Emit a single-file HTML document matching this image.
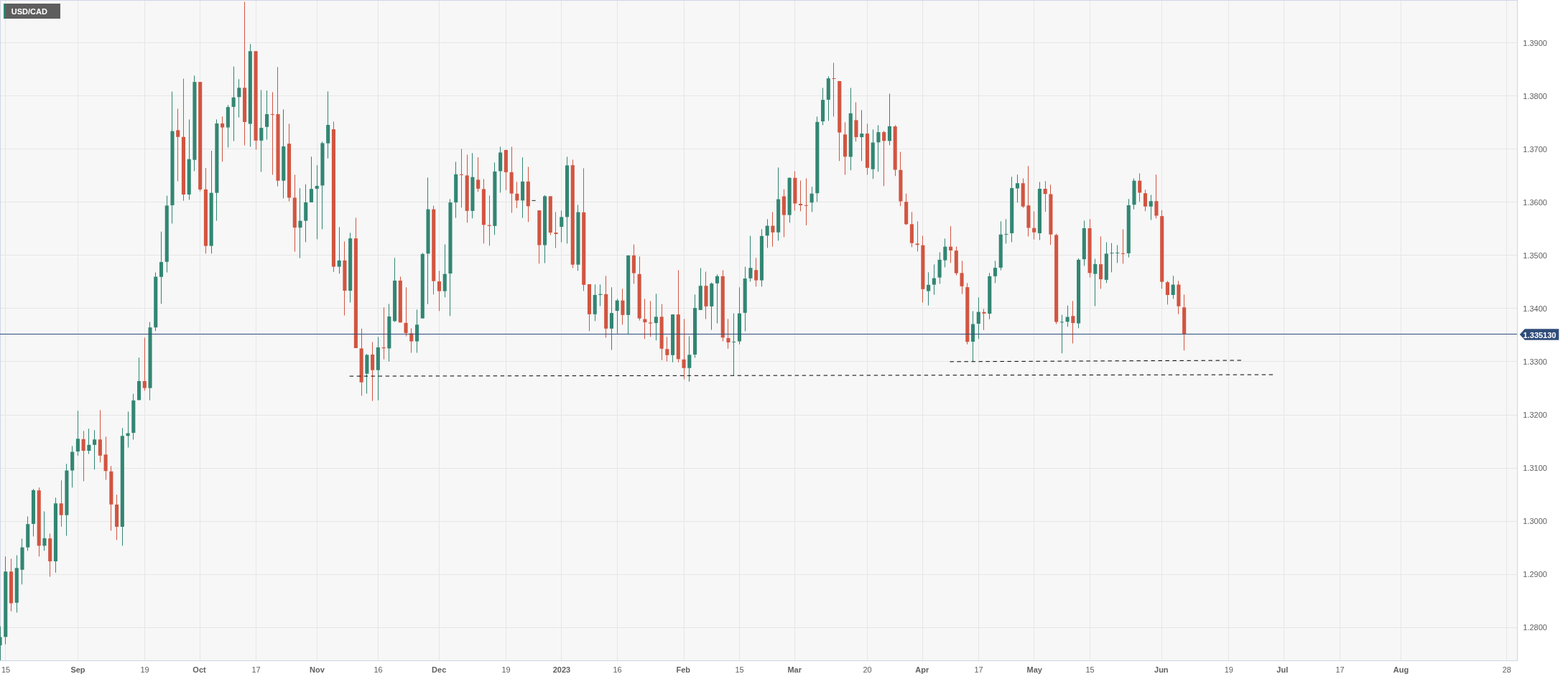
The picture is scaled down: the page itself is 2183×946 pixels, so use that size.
<!DOCTYPE html>
<html lang="en"><head><meta charset="utf-8"><title>USD/CAD</title>
<style>
html,body{margin:0;padding:0;background:#fff;}
body{width:2183px;height:946px;overflow:hidden;position:relative;font-family:"Liberation Sans",Arial,sans-serif;}
svg{position:absolute;left:0;top:0;display:block;}
text{font-family:"Liberation Sans",Arial,sans-serif;font-size:11px;fill:#606060;}
.b{font-weight:bold;}
.c{shape-rendering:crispEdges;}
</style></head><body>
<svg width="2183" height="946" viewBox="0 0 2183 946">
<rect class="c" x="0" y="0" width="2113" height="921" fill="#cfd5e6"/>
<rect class="c" x="1" y="1" width="2111" height="919" fill="#f7f7f7"/>
<g class="c" fill="#e6e6e6">
<rect x="7" y="1" width="1" height="919"/><rect x="108" y="1" width="1" height="919"/><rect x="201" y="1" width="1" height="919"/><rect x="278" y="1" width="1" height="919"/><rect x="356" y="1" width="1" height="919"/><rect x="441" y="1" width="1" height="919"/><rect x="526" y="1" width="1" height="919"/><rect x="611" y="1" width="1" height="919"/><rect x="704" y="1" width="1" height="919"/><rect x="781" y="1" width="1" height="919"/><rect x="859" y="1" width="1" height="919"/><rect x="952" y="1" width="1" height="919"/><rect x="1029" y="1" width="1" height="919"/><rect x="1106" y="1" width="1" height="919"/><rect x="1207" y="1" width="1" height="919"/><rect x="1284" y="1" width="1" height="919"/><rect x="1362" y="1" width="1" height="919"/><rect x="1439" y="1" width="1" height="919"/><rect x="1517" y="1" width="1" height="919"/><rect x="1617" y="1" width="1" height="919"/><rect x="1710" y="1" width="1" height="919"/><rect x="1787" y="1" width="1" height="919"/><rect x="1865" y="1" width="1" height="919"/><rect x="1950" y="1" width="1" height="919"/><rect x="2097" y="1" width="1" height="919"/>
<rect x="1" y="59" width="2111" height="1"/><rect x="1" y="133" width="2111" height="1"/><rect x="1" y="207" width="2111" height="1"/><rect x="1" y="281" width="2111" height="1"/><rect x="1" y="355" width="2111" height="1"/><rect x="1" y="429" width="2111" height="1"/><rect x="1" y="503" width="2111" height="1"/><rect x="1" y="578" width="2111" height="1"/><rect x="1" y="652" width="2111" height="1"/><rect x="1" y="726" width="2111" height="1"/><rect x="1" y="800" width="2111" height="1"/><rect x="1" y="874" width="2111" height="1"/>
</g>
<g>
<rect x="0" y="872.6" width="1" height="47.4" fill="#328673"/><rect x="0" y="887.6" width="2.59" height="11.5" fill="#328673"/>
<rect x="7" y="775.34" width="1" height="122.28" fill="#328673"/><rect x="5.23" y="796.31" width="5.1" height="91.08" fill="#328673"/>
<rect x="15" y="778.34" width="1" height="73.37" fill="#d15541"/><rect x="12.97" y="796.31" width="5.1" height="44.17" fill="#d15541"/>
<rect x="23" y="773.6" width="1" height="79.85" fill="#328673"/><rect x="20.71" y="791.32" width="5.1" height="48.41" fill="#328673"/>
<rect x="30" y="750.39" width="1" height="63.88" fill="#328673"/><rect x="28.45" y="762.62" width="5.1" height="31.19" fill="#328673"/>
<rect x="38" y="719.45" width="1" height="47.91" fill="#328673"/><rect x="36.19" y="730.18" width="5.1" height="32.44" fill="#328673"/>
<rect x="46" y="681.21" width="1" height="66.18" fill="#328673"/><rect x="43.93" y="682.96" width="5.1" height="46.97" fill="#328673"/>
<rect x="54" y="679.22" width="1" height="96.13" fill="#d15541"/><rect x="51.67" y="683.21" width="5.1" height="77.16" fill="#d15541"/>
<rect x="61" y="712.46" width="1" height="54.9" fill="#328673"/><rect x="59.41" y="749.89" width="5.1" height="10.48" fill="#328673"/>
<rect x="69" y="743.4" width="1" height="60.14" fill="#d15541"/><rect x="67.15" y="750.14" width="5.1" height="31.94" fill="#d15541"/>
<rect x="77" y="693.34" width="1" height="104.46" fill="#328673"/><rect x="74.89" y="701.33" width="5.1" height="80.75" fill="#328673"/>
<rect x="85" y="669.23" width="1" height="64.44" fill="#d15541"/><rect x="82.63" y="701.33" width="5.1" height="16.37" fill="#d15541"/>
<rect x="92" y="646.26" width="1" height="100.14" fill="#328673"/><rect x="90.37" y="655.5" width="5.1" height="62.2" fill="#328673"/>
<rect x="100" y="621.29" width="1" height="57.92" fill="#328673"/><rect x="98.11" y="629.53" width="5.1" height="25.96" fill="#328673"/>
<rect x="108" y="572.36" width="1" height="62.41" fill="#328673"/><rect x="105.85" y="611.31" width="5.1" height="17.73" fill="#328673"/>
<rect x="116" y="600.32" width="1" height="70.15" fill="#d15541"/><rect x="113.59" y="611.81" width="5.1" height="16.23" fill="#d15541"/>
<rect x="123" y="597.33" width="1" height="35.2" fill="#328673"/><rect x="121.33" y="619.8" width="5.1" height="8.24" fill="#328673"/>
<rect x="131" y="599.32" width="1" height="54.92" fill="#328673"/><rect x="129.07" y="612.31" width="5.1" height="7.49" fill="#328673"/>
<rect x="139" y="571.36" width="1" height="72.9" fill="#d15541"/><rect x="136.81" y="612.31" width="5.1" height="22.47" fill="#d15541"/>
<rect x="147" y="608.31" width="1" height="60.17" fill="#d15541"/><rect x="144.55" y="633.28" width="5.1" height="22.97" fill="#d15541"/>
<rect x="154" y="649.26" width="1" height="90.15" fill="#d15541"/><rect x="152.29" y="656.75" width="5.1" height="46.08" fill="#d15541"/>
<rect x="162" y="689.2" width="1" height="63.18" fill="#d15541"/><rect x="160.03" y="702.95" width="5.1" height="30.97" fill="#d15541"/>
<rect x="170" y="596.33" width="1" height="164.04" fill="#328673"/><rect x="167.77" y="607.31" width="5.1" height="126.61" fill="#328673"/>
<rect x="178" y="573.36" width="1" height="50.18" fill="#328673"/><rect x="175.51" y="603.57" width="5.1" height="3.74" fill="#328673"/>
<rect x="185" y="548.64" width="1" height="63.91" fill="#328673"/><rect x="183.25" y="557.88" width="5.1" height="45.19" fill="#328673"/>
<rect x="193" y="498.21" width="1" height="59.17" fill="#328673"/><rect x="190.99" y="530.92" width="5.1" height="26.46" fill="#328673"/>
<rect x="201" y="470.5" width="1" height="73.9" fill="#d15541"/><rect x="198.73" y="530.92" width="5.1" height="9.74" fill="#d15541"/>
<rect x="208" y="448.71" width="1" height="108.92" fill="#328673"/><rect x="206.47" y="456.2" width="5.1" height="84.46" fill="#328673"/>
<rect x="216" y="379.55" width="1" height="81.64" fill="#328673"/><rect x="214.21" y="385.54" width="5.1" height="70.65" fill="#328673"/>
<rect x="224" y="322.63" width="1" height="100.61" fill="#328673"/><rect x="221.95" y="365.07" width="5.1" height="20.72" fill="#328673"/>
<rect x="232" y="272.7" width="1" height="106.85" fill="#328673"/><rect x="229.69" y="286.43" width="5.1" height="78.39" fill="#328673"/>
<rect x="239" y="127.61" width="1" height="183.79" fill="#328673"/><rect x="237.43" y="182.66" width="5.1" height="103.27" fill="#328673"/>
<rect x="247" y="151.45" width="1" height="101.02" fill="#d15541"/><rect x="245.17" y="181.39" width="5.1" height="9.39" fill="#d15541"/>
<rect x="255" y="109.59" width="1" height="170.1" fill="#d15541"/><rect x="252.91" y="190.78" width="5.1" height="80.18" fill="#d15541"/>
<rect x="263" y="166.42" width="1" height="112.02" fill="#328673"/><rect x="260.65" y="221.73" width="5.1" height="49.23" fill="#328673"/>
<rect x="270" y="105.28" width="1" height="133.2" fill="#328673"/><rect x="268.39" y="114.16" width="5.1" height="108.58" fill="#328673"/>
<rect x="278" y="114.16" width="1" height="152.3" fill="#d15541"/><rect x="276.13" y="114.16" width="5.1" height="149.8" fill="#d15541"/>
<rect x="286" y="234.16" width="1" height="119.18" fill="#d15541"/><rect x="283.87" y="263.96" width="5.1" height="78.64" fill="#d15541"/>
<rect x="294" y="210.06" width="1" height="143.28" fill="#328673"/><rect x="291.61" y="268.71" width="5.1" height="73.9" fill="#328673"/>
<rect x="301" y="166.42" width="1" height="141.23" fill="#328673"/><rect x="299.35" y="172" width="5.1" height="96.7" fill="#328673"/>
<rect x="309" y="162.36" width="1" height="62.92" fill="#d15541"/><rect x="307.09" y="172" width="5.1" height="5.58" fill="#d15541"/>
<rect x="317" y="146.38" width="1" height="59.11" fill="#328673"/><rect x="314.83" y="149.17" width="5.1" height="28.41" fill="#328673"/>
<rect x="325" y="92.6" width="1" height="104.01" fill="#328673"/><rect x="322.57" y="135.72" width="5.1" height="13.19" fill="#328673"/>
<rect x="332" y="110.36" width="1" height="53.28" fill="#328673"/><rect x="330.31" y="122.28" width="5.1" height="12.94" fill="#328673"/>
<rect x="340" y="2.54" width="1" height="199.91" fill="#d15541"/><rect x="338.05" y="122.28" width="5.1" height="47.69" fill="#d15541"/>
<rect x="348" y="61.39" width="1" height="143.08" fill="#328673"/><rect x="345.79" y="71.29" width="5.1" height="101.22" fill="#328673"/>
<rect x="356" y="71.29" width="1" height="137.25" fill="#d15541"/><rect x="353.53" y="71.29" width="5.1" height="124.56" fill="#d15541"/>
<rect x="363" y="125.32" width="1" height="114.17" fill="#328673"/><rect x="361.27" y="178.09" width="5.1" height="17.76" fill="#328673"/>
<rect x="371" y="126.08" width="1" height="68.5" fill="#328673"/><rect x="369.01" y="159.06" width="5.1" height="17.76" fill="#328673"/>
<rect x="379" y="128.37" width="1" height="115.12" fill="#d15541"/><rect x="376.75" y="159.06" width="5.1" height="1.01" fill="#d15541"/>
<rect x="386" y="93.36" width="1" height="166.36" fill="#d15541"/><rect x="384.49" y="159.06" width="5.1" height="92.66" fill="#d15541"/>
<rect x="394" y="152.47" width="1" height="123.98" fill="#328673"/><rect x="392.23" y="203.97" width="5.1" height="47.76" fill="#328673"/>
<rect x="402" y="172.51" width="1" height="107.93" fill="#d15541"/><rect x="399.97" y="200.16" width="5.1" height="75.28" fill="#d15541"/>
<rect x="410" y="243.49" width="1" height="107.1" fill="#d15541"/><rect x="407.71" y="275.45" width="5.1" height="41.69" fill="#d15541"/>
<rect x="417" y="262.21" width="1" height="97.37" fill="#328673"/><rect x="415.45" y="307.65" width="5.1" height="9.49" fill="#328673"/>
<rect x="425" y="256.72" width="1" height="80.64" fill="#328673"/><rect x="423.19" y="281.94" width="5.1" height="25.71" fill="#328673"/>
<rect x="433" y="218.17" width="1" height="63.76" fill="#328673"/><rect x="430.93" y="263.21" width="5.1" height="18.72" fill="#328673"/>
<rect x="441" y="230.1" width="1" height="103.27" fill="#328673"/><rect x="438.67" y="258.97" width="5.1" height="3.99" fill="#328673"/>
<rect x="448" y="197.37" width="1" height="122.01" fill="#328673"/><rect x="446.41" y="199.4" width="5.1" height="59.07" fill="#328673"/>
<rect x="456" y="127.35" width="1" height="93.36" fill="#328673"/><rect x="454.15" y="174.03" width="5.1" height="25.62" fill="#328673"/>
<rect x="464" y="169.47" width="1" height="209.34" fill="#d15541"/><rect x="461.89" y="180.12" width="5.1" height="191.44" fill="#d15541"/>
<rect x="472" y="316.39" width="1" height="64.91" fill="#328673"/><rect x="469.63" y="362.83" width="5.1" height="8.74" fill="#328673"/>
<rect x="479" y="336.36" width="1" height="103.11" fill="#d15541"/><rect x="477.37" y="362.83" width="5.1" height="42.19" fill="#d15541"/>
<rect x="487" y="324.38" width="1" height="97.12" fill="#328673"/><rect x="485.11" y="332.12" width="5.1" height="72.9" fill="#328673"/>
<rect x="495" y="303.41" width="1" height="181.57" fill="#d15541"/><rect x="492.85" y="332.12" width="5.1" height="152.86" fill="#d15541"/>
<rect x="503" y="457.7" width="1" height="93.7" fill="#d15541"/><rect x="500.59" y="485.48" width="5.1" height="47.19" fill="#d15541"/>
<rect x="510" y="493.22" width="1" height="55.17" fill="#328673"/><rect x="508.33" y="494.47" width="5.1" height="26.21" fill="#328673"/>
<rect x="518" y="476.49" width="1" height="82.14" fill="#d15541"/><rect x="516.07" y="493.97" width="5.1" height="21.72" fill="#d15541"/>
<rect x="526" y="469.43" width="1" height="88.2" fill="#328673"/><rect x="523.81" y="483.98" width="5.1" height="31.71" fill="#328673"/>
<rect x="534" y="428.24" width="1" height="72.47" fill="#d15541"/><rect x="531.55" y="483.98" width="5.1" height="1.25" fill="#d15541"/>
<rect x="541" y="423.43" width="1" height="80.18" fill="#328673"/><rect x="539.29" y="440.91" width="5.1" height="44.48" fill="#328673"/>
<rect x="549" y="359.36" width="1" height="89.23" fill="#328673"/><rect x="547.03" y="390.94" width="5.1" height="56.4" fill="#328673"/>
<rect x="557" y="385.32" width="1" height="64.02" fill="#d15541"/><rect x="554.77" y="390.94" width="5.1" height="58.4" fill="#d15541"/>
<rect x="565" y="400.3" width="1" height="68.26" fill="#d15541"/><rect x="562.51" y="449.84" width="5.1" height="14.23" fill="#d15541"/>
<rect x="572" y="457.32" width="1" height="34.2" fill="#d15541"/><rect x="570.25" y="464.32" width="5.1" height="11.23" fill="#d15541"/>
<rect x="580" y="431.36" width="1" height="60.17" fill="#328673"/><rect x="577.99" y="452.33" width="5.1" height="23.22" fill="#328673"/>
<rect x="588" y="352.37" width="1" height="91.23" fill="#328673"/><rect x="585.73" y="353.86" width="5.1" height="89.73" fill="#328673"/>
<rect x="595" y="247.41" width="1" height="176.21" fill="#328673"/><rect x="593.47" y="291.6" width="5.1" height="61.77" fill="#328673"/>
<rect x="603" y="286.6" width="1" height="123.68" fill="#d15541"/><rect x="601.21" y="291.6" width="5.1" height="100.09" fill="#d15541"/>
<rect x="611" y="377.33" width="1" height="56.03" fill="#d15541"/><rect x="608.95" y="392.06" width="5.1" height="13.61" fill="#d15541"/>
<rect x="619" y="340.51" width="1" height="73.77" fill="#328673"/><rect x="616.69" y="381.7" width="5.1" height="23.97" fill="#328673"/>
<rect x="626" y="277.37" width="1" height="162.98" fill="#328673"/><rect x="624.43" y="282.11" width="5.1" height="98.97" fill="#328673"/>
<rect x="634" y="225.44" width="1" height="78.14" fill="#328673"/><rect x="632.17" y="242.91" width="5.1" height="39.2" fill="#328673"/>
<rect x="642" y="207.46" width="1" height="81.89" fill="#d15541"/><rect x="639.91" y="242.91" width="5.1" height="1" fill="#d15541"/>
<rect x="650" y="215.45" width="1" height="94.87" fill="#d15541"/><rect x="647.65" y="244.41" width="5.1" height="49.43" fill="#d15541"/>
<rect x="657" y="213.2" width="1" height="91.12" fill="#328673"/><rect x="655.39" y="246.66" width="5.1" height="47.19" fill="#328673"/>
<rect x="665" y="219.2" width="1" height="48.18" fill="#d15541"/><rect x="663.13" y="250.4" width="5.1" height="12.48" fill="#d15541"/>
<rect x="673" y="249.4" width="1" height="89.98" fill="#d15541"/><rect x="670.87" y="263.39" width="5.1" height="49.93" fill="#d15541"/>
<rect x="681" y="272.37" width="1" height="70.01" fill="#d15541"/><rect x="678.61" y="313.57" width="5.1" height="1.25" fill="#d15541"/>
<rect x="688" y="226.44" width="1" height="100.86" fill="#328673"/><rect x="686.35" y="238.92" width="5.1" height="75.9" fill="#328673"/>
<rect x="696" y="204.47" width="1" height="63.91" fill="#328673"/><rect x="694.09" y="212.46" width="5.1" height="25.96" fill="#328673"/>
<rect x="704" y="208.71" width="1" height="56.17" fill="#d15541"/><rect x="701.83" y="208.96" width="5.1" height="30.96" fill="#d15541"/>
<rect x="712" y="204.47" width="1" height="92.12" fill="#d15541"/><rect x="709.57" y="239.92" width="5.1" height="29.71" fill="#d15541"/>
<rect x="719" y="253.4" width="1" height="36.45" fill="#d15541"/><rect x="717.31" y="269.88" width="5.1" height="9.49" fill="#d15541"/>
<rect x="727" y="219.2" width="1" height="84.38" fill="#328673"/><rect x="725.05" y="252.9" width="5.1" height="26.46" fill="#328673"/>
<rect x="735" y="232.43" width="1" height="76.89" fill="#d15541"/><rect x="732.79" y="252.9" width="5.1" height="34.45" fill="#d15541"/>
<rect x="740.53" y="278.86" width="5.1" height="1" fill="#222"/>
<rect x="750" y="293.09" width="1" height="74.25" fill="#d15541"/><rect x="748.27" y="293.09" width="5.1" height="48.41" fill="#d15541"/>
<rect x="758" y="271.87" width="1" height="94.72" fill="#328673"/><rect x="756.01" y="273.37" width="5.1" height="68.13" fill="#328673"/>
<rect x="766" y="273.37" width="1" height="53.93" fill="#d15541"/><rect x="763.75" y="273.37" width="5.1" height="50.68" fill="#d15541"/>
<rect x="773" y="295.34" width="1" height="50.16" fill="#d15541"/><rect x="771.49" y="324.05" width="5.1" height="2" fill="#d15541"/>
<rect x="781" y="293.34" width="1" height="44.17" fill="#328673"/><rect x="779.23" y="302.33" width="5.1" height="13.73" fill="#328673"/>
<rect x="789" y="218.45" width="1" height="120.94" fill="#328673"/><rect x="786.97" y="230.43" width="5.1" height="71.9" fill="#328673"/>
<rect x="797" y="222.44" width="1" height="151.15" fill="#d15541"/><rect x="794.71" y="230.18" width="5.1" height="138.54" fill="#d15541"/>
<rect x="804" y="285.36" width="1" height="91.98" fill="#328673"/><rect x="802.45" y="295.59" width="5.1" height="73.13" fill="#328673"/>
<rect x="812" y="234.43" width="1" height="170.99" fill="#d15541"/><rect x="810.19" y="295.84" width="5.1" height="100.96" fill="#d15541"/>
<rect x="820" y="395.93" width="1" height="65.39" fill="#d15541"/><rect x="817.93" y="395.93" width="5.1" height="41.92" fill="#d15541"/>
<rect x="828" y="396.31" width="1" height="51.03" fill="#328673"/><rect x="825.67" y="410.91" width="5.1" height="26.94" fill="#328673"/>
<rect x="835" y="396.31" width="1" height="30.31" fill="#328673"/><rect x="833.41" y="409.66" width="5.1" height="1.23" fill="#328673"/>
<rect x="843" y="384.32" width="1" height="86.23" fill="#d15541"/><rect x="841.15" y="409.91" width="5.1" height="47.91" fill="#d15541"/>
<rect x="851" y="400.3" width="1" height="87.23" fill="#328673"/><rect x="848.89" y="436.1" width="5.1" height="21.72" fill="#328673"/>
<rect x="859" y="416.38" width="1" height="48.43" fill="#328673"/><rect x="856.63" y="418.63" width="5.1" height="14.48" fill="#328673"/>
<rect x="866" y="402.3" width="1" height="50.03" fill="#d15541"/><rect x="864.37" y="418.63" width="5.1" height="20.22" fill="#d15541"/>
<rect x="874" y="355.86" width="1" height="110.2" fill="#328673"/><rect x="872.11" y="355.86" width="5.1" height="82.99" fill="#328673"/>
<rect x="882" y="340.51" width="1" height="54.8" fill="#d15541"/><rect x="879.85" y="355.86" width="5.1" height="24.72" fill="#d15541"/>
<rect x="890" y="357.36" width="1" height="89.23" fill="#d15541"/><rect x="887.59" y="381.83" width="5.1" height="61.77" fill="#d15541"/>
<rect x="897" y="416.38" width="1" height="55.92" fill="#d15541"/><rect x="895.33" y="444.59" width="5.1" height="4.49" fill="#d15541"/>
<rect x="905" y="419.38" width="1" height="49.93" fill="#d15541"/><rect x="903.07" y="449.34" width="5.1" height="1.25" fill="#d15541"/>
<rect x="913" y="409.29" width="1" height="65.01" fill="#328673"/><rect x="910.81" y="441.35" width="5.1" height="8.74" fill="#328673"/>
<rect x="921" y="423.62" width="1" height="78.14" fill="#d15541"/><rect x="918.55" y="441.35" width="5.1" height="44.44" fill="#d15541"/>
<rect x="928" y="469.31" width="1" height="34.2" fill="#d15541"/><rect x="926.29" y="486.29" width="5.1" height="8.49" fill="#d15541"/>
<rect x="936" y="437.85" width="1" height="66.91" fill="#328673"/><rect x="934.03" y="438.1" width="5.1" height="56.67" fill="#328673"/>
<rect x="944" y="376.46" width="1" height="128.3" fill="#d15541"/><rect x="941.77" y="438.1" width="5.1" height="62.16" fill="#d15541"/>
<rect x="952" y="444.34" width="1" height="84.13" fill="#d15541"/><rect x="949.51" y="500.77" width="5.1" height="11.98" fill="#d15541"/>
<rect x="959" y="468.56" width="1" height="63.16" fill="#328673"/><rect x="957.25" y="494.27" width="5.1" height="18.47" fill="#328673"/>
<rect x="967" y="410.29" width="1" height="88.23" fill="#328673"/><rect x="964.99" y="429.11" width="5.1" height="64.91" fill="#328673"/>
<rect x="975" y="373.46" width="1" height="58.4" fill="#328673"/><rect x="972.73" y="398.18" width="5.1" height="33.68" fill="#328673"/>
<rect x="982" y="378.46" width="1" height="66.14" fill="#d15541"/><rect x="980.47" y="398.18" width="5.1" height="28.69" fill="#d15541"/>
<rect x="990" y="393.56" width="1" height="66.01" fill="#328673"/><rect x="988.21" y="395.06" width="5.1" height="31.81" fill="#328673"/>
<rect x="998" y="382.32" width="1" height="68.26" fill="#328673"/><rect x="995.95" y="384.82" width="5.1" height="9.99" fill="#328673"/>
<rect x="1006" y="376.46" width="1" height="99.09" fill="#d15541"/><rect x="1003.69" y="384.82" width="5.1" height="85.49" fill="#d15541"/>
<rect x="1013" y="444.34" width="1" height="41.44" fill="#d15541"/><rect x="1011.43" y="471.06" width="5.1" height="5.99" fill="#d15541"/>
<rect x="1021" y="436.6" width="1" height="86.88" fill="#328673"/><rect x="1019.17" y="476.05" width="5.1" height="1" fill="#328673"/>
<rect x="1029" y="400.3" width="1" height="79.49" fill="#328673"/><rect x="1026.91" y="436.6" width="5.1" height="38.95" fill="#328673"/>
<rect x="1037" y="371.59" width="1" height="89.98" fill="#328673"/><rect x="1034.65" y="388.07" width="5.1" height="47.79" fill="#328673"/>
<rect x="1044" y="328.55" width="1" height="63.77" fill="#328673"/><rect x="1042.39" y="373.21" width="5.1" height="14.6" fill="#328673"/>
<rect x="1052" y="359.36" width="1" height="39.95" fill="#d15541"/><rect x="1050.13" y="376.21" width="5.1" height="14.36" fill="#d15541"/>
<rect x="1060" y="319.31" width="1" height="79.99" fill="#328673"/><rect x="1057.87" y="328.8" width="5.1" height="61.77" fill="#328673"/>
<rect x="1068" y="305.33" width="1" height="40.05" fill="#328673"/><rect x="1065.61" y="314.56" width="5.1" height="13.73" fill="#328673"/>
<rect x="1075" y="295.34" width="1" height="48.29" fill="#d15541"/><rect x="1073.35" y="314.56" width="5.1" height="9.24" fill="#d15541"/>
<rect x="1083" y="233.36" width="1" height="102" fill="#328673"/><rect x="1081.09" y="277.55" width="5.1" height="46.21" fill="#328673"/>
<rect x="1091" y="263.5" width="1" height="66.95" fill="#d15541"/><rect x="1088.83" y="273.48" width="5.1" height="26.11" fill="#d15541"/>
<rect x="1099" y="247.27" width="1" height="63.06" fill="#328673"/><rect x="1096.57" y="247.77" width="5.1" height="51.82" fill="#328673"/>
<rect x="1106" y="238.53" width="1" height="54.94" fill="#d15541"/><rect x="1104.31" y="247.77" width="5.1" height="35.7" fill="#d15541"/>
<rect x="1114" y="251.51" width="1" height="42.84" fill="#d15541"/><rect x="1112.05" y="283.97" width="5.1" height="2" fill="#d15541"/>
<rect x="1122" y="248.52" width="1" height="65.43" fill="#d15541"/><rect x="1119.79" y="285.84" width="5.1" height="1" fill="#d15541"/>
<rect x="1130" y="260.25" width="1" height="35.1" fill="#328673"/><rect x="1127.53" y="269.74" width="5.1" height="12.48" fill="#328673"/>
<rect x="1137" y="162.39" width="1" height="118.84" fill="#328673"/><rect x="1135.27" y="169.88" width="5.1" height="99.36" fill="#328673"/>
<rect x="1145" y="122.44" width="1" height="51.93" fill="#328673"/><rect x="1143.01" y="139.17" width="5.1" height="29.96" fill="#328673"/>
<rect x="1153" y="106.21" width="1" height="62.16" fill="#328673"/><rect x="1150.75" y="109.21" width="5.1" height="29.71" fill="#328673"/>
<rect x="1160" y="87.49" width="1" height="74.9" fill="#d15541"/><rect x="1158.49" y="108.96" width="5.1" height="1" fill="#d15541"/>
<rect x="1168" y="112.95" width="1" height="111.35" fill="#d15541"/><rect x="1166.23" y="112.95" width="5.1" height="71.65" fill="#d15541"/>
<rect x="1176" y="170.38" width="1" height="73.15" fill="#d15541"/><rect x="1173.97" y="187.35" width="5.1" height="30.96" fill="#d15541"/>
<rect x="1184" y="122.44" width="1" height="114.84" fill="#328673"/><rect x="1181.71" y="157.89" width="5.1" height="60.67" fill="#328673"/>
<rect x="1191" y="142.41" width="1" height="54.92" fill="#d15541"/><rect x="1189.45" y="167.38" width="5.1" height="23.72" fill="#d15541"/>
<rect x="1199" y="153.4" width="1" height="70.9" fill="#328673"/><rect x="1197.19" y="186.1" width="5.1" height="4.99" fill="#328673"/>
<rect x="1207" y="172.37" width="1" height="71.15" fill="#d15541"/><rect x="1204.93" y="186.1" width="5.1" height="47.68" fill="#d15541"/>
<rect x="1215" y="180.36" width="1" height="68.91" fill="#328673"/><rect x="1212.67" y="198.59" width="5.1" height="37.2" fill="#328673"/>
<rect x="1222" y="174.37" width="1" height="64.91" fill="#328673"/><rect x="1220.41" y="184.11" width="5.1" height="14.23" fill="#328673"/>
<rect x="1230" y="182.36" width="1" height="76.89" fill="#d15541"/><rect x="1228.15" y="184.11" width="5.1" height="12.23" fill="#d15541"/>
<rect x="1238" y="130.43" width="1" height="71.9" fill="#328673"/><rect x="1235.89" y="175.87" width="5.1" height="20.47" fill="#328673"/>
<rect x="1246" y="174.37" width="1" height="70.9" fill="#d15541"/><rect x="1243.63" y="176.12" width="5.1" height="60.42" fill="#d15541"/>
<rect x="1253" y="211.57" width="1" height="75.65" fill="#d15541"/><rect x="1251.37" y="236.78" width="5.1" height="43.69" fill="#d15541"/>
<rect x="1261" y="269.74" width="1" height="43.71" fill="#d15541"/><rect x="1259.11" y="281.22" width="5.1" height="31.1" fill="#d15541"/>
<rect x="1269" y="295.35" width="1" height="49.08" fill="#d15541"/><rect x="1266.85" y="312.32" width="5.1" height="26.36" fill="#d15541"/>
<rect x="1277" y="308.33" width="1" height="42.09" fill="#d15541"/><rect x="1274.59" y="339.43" width="5.1" height="1.75" fill="#d15541"/>
<rect x="1284" y="328.45" width="1" height="93.12" fill="#d15541"/><rect x="1282.33" y="341.68" width="5.1" height="61.17" fill="#d15541"/>
<rect x="1292" y="379.38" width="1" height="46.19" fill="#328673"/><rect x="1290.07" y="396.85" width="5.1" height="8.74" fill="#328673"/>
<rect x="1300" y="368.39" width="1" height="42.19" fill="#328673"/><rect x="1297.81" y="387.62" width="5.1" height="8.99" fill="#328673"/>
<rect x="1308" y="351.42" width="1" height="43.94" fill="#328673"/><rect x="1305.55" y="361.9" width="5.1" height="24.72" fill="#328673"/>
<rect x="1315" y="332.44" width="1" height="39.95" fill="#328673"/><rect x="1313.29" y="343.68" width="5.1" height="18.97" fill="#328673"/>
<rect x="1323" y="315.07" width="1" height="51.32" fill="#d15541"/><rect x="1321.03" y="343.68" width="5.1" height="5.24" fill="#d15541"/>
<rect x="1331" y="343.43" width="1" height="40.19" fill="#d15541"/><rect x="1328.77" y="349.17" width="5.1" height="31.46" fill="#d15541"/>
<rect x="1339" y="363.4" width="1" height="46.19" fill="#d15541"/><rect x="1336.51" y="380.38" width="5.1" height="18.47" fill="#d15541"/>
<rect x="1346" y="394.36" width="1" height="85.38" fill="#d15541"/><rect x="1344.25" y="400.1" width="5.1" height="76.15" fill="#d15541"/>
<rect x="1354" y="433.55" width="1" height="70.4" fill="#328673"/><rect x="1351.99" y="451.53" width="5.1" height="24.47" fill="#328673"/>
<rect x="1362" y="414.33" width="1" height="57.92" fill="#328673"/><rect x="1359.73" y="434.55" width="5.1" height="16.48" fill="#328673"/>
<rect x="1369" y="430.31" width="1" height="29.46" fill="#d15541"/><rect x="1367.47" y="434.8" width="5.1" height="2" fill="#d15541"/>
<rect x="1377" y="380.38" width="1" height="64.41" fill="#328673"/><rect x="1375.21" y="384.87" width="5.1" height="52.18" fill="#328673"/>
<rect x="1385" y="363.4" width="1" height="30.96" fill="#328673"/><rect x="1382.95" y="373.14" width="5.1" height="11.73" fill="#328673"/>
<rect x="1393" y="308.33" width="1" height="68.3" fill="#328673"/><rect x="1390.69" y="326.7" width="5.1" height="46.19" fill="#328673"/>
<rect x="1400" y="305.33" width="1" height="34.1" fill="#328673"/><rect x="1398.43" y="325.95" width="5.1" height="1" fill="#328673"/>
<rect x="1408" y="246.27" width="1" height="91.16" fill="#328673"/><rect x="1406.17" y="262" width="5.1" height="62.95" fill="#328673"/>
<rect x="1416" y="243.28" width="1" height="38.95" fill="#328673"/><rect x="1413.91" y="255.26" width="5.1" height="7.24" fill="#328673"/>
<rect x="1424" y="248.52" width="1" height="41.19" fill="#d15541"/><rect x="1421.65" y="255.26" width="5.1" height="32.46" fill="#d15541"/>
<rect x="1431" y="231.29" width="1" height="98.15" fill="#d15541"/><rect x="1429.39" y="286.22" width="5.1" height="31.25" fill="#d15541"/>
<rect x="1439" y="294.35" width="1" height="39.34" fill="#d15541"/><rect x="1437.13" y="317.71" width="5.1" height="5.99" fill="#d15541"/>
<rect x="1447" y="253.51" width="1" height="80.93" fill="#328673"/><rect x="1444.87" y="263" width="5.1" height="61.95" fill="#328673"/>
<rect x="1455" y="252.26" width="1" height="42.84" fill="#d15541"/><rect x="1452.61" y="263" width="5.1" height="7.24" fill="#d15541"/>
<rect x="1462" y="257.26" width="1" height="83.92" fill="#d15541"/><rect x="1460.35" y="270.49" width="5.1" height="56.21" fill="#d15541"/>
<rect x="1470" y="325.45" width="1" height="126.08" fill="#d15541"/><rect x="1468.09" y="327.45" width="5.1" height="121.08" fill="#d15541"/>
<rect x="1478" y="438.55" width="1" height="53.68" fill="#328673"/><rect x="1475.83" y="448.28" width="5.1" height="1" fill="#328673"/>
<rect x="1486" y="425.56" width="1" height="29.71" fill="#328673"/><rect x="1483.57" y="441.54" width="5.1" height="6.74" fill="#328673"/>
<rect x="1493" y="419.32" width="1" height="59.17" fill="#d15541"/><rect x="1491.31" y="440.29" width="5.1" height="9.74" fill="#d15541"/>
<rect x="1501" y="359.9" width="1" height="97.37" fill="#328673"/><rect x="1499.05" y="361.9" width="5.1" height="88.63" fill="#328673"/>
<rect x="1509" y="307.33" width="1" height="63.06" fill="#328673"/><rect x="1506.79" y="317.96" width="5.1" height="43.19" fill="#328673"/>
<rect x="1517" y="305.33" width="1" height="81.28" fill="#d15541"/><rect x="1514.53" y="317.96" width="5.1" height="62.41" fill="#d15541"/>
<rect x="1524" y="360.65" width="1" height="65.91" fill="#328673"/><rect x="1522.27" y="367.89" width="5.1" height="13.73" fill="#328673"/>
<rect x="1532" y="329.45" width="1" height="72.9" fill="#d15541"/><rect x="1530.01" y="368.14" width="5.1" height="20.97" fill="#d15541"/>
<rect x="1540" y="337.43" width="1" height="56.92" fill="#328673"/><rect x="1537.75" y="353.41" width="5.1" height="36.45" fill="#328673"/>
<rect x="1547" y="338.68" width="1" height="40.69" fill="#328673"/><rect x="1545.49" y="352.16" width="5.1" height="1" fill="#328673"/>
<rect x="1555" y="341.43" width="1" height="24.97" fill="#328673"/><rect x="1553.23" y="351.91" width="5.1" height="1" fill="#328673"/>
<rect x="1563" y="319.46" width="1" height="47.93" fill="#d15541"/><rect x="1560.97" y="352.91" width="5.1" height="1" fill="#d15541"/>
<rect x="1571" y="277.23" width="1" height="81.43" fill="#328673"/><rect x="1568.71" y="285.97" width="5.1" height="66.95" fill="#328673"/>
<rect x="1578" y="248.52" width="1" height="43.21" fill="#328673"/><rect x="1576.45" y="251.76" width="5.1" height="33.45" fill="#328673"/>
<rect x="1586" y="241.53" width="1" height="39.7" fill="#d15541"/><rect x="1584.19" y="251.76" width="5.1" height="16.73" fill="#d15541"/>
<rect x="1594" y="264.25" width="1" height="30.1" fill="#d15541"/><rect x="1591.93" y="269.24" width="5.1" height="18.47" fill="#d15541"/>
<rect x="1602" y="271.49" width="1" height="34.97" fill="#328673"/><rect x="1599.67" y="280.22" width="5.1" height="7.49" fill="#328673"/>
<rect x="1609" y="243.28" width="1" height="61.06" fill="#d15541"/><rect x="1607.41" y="280.22" width="5.1" height="20.24" fill="#d15541"/>
<rect x="1617" y="292.85" width="1" height="109.57" fill="#d15541"/><rect x="1615.15" y="301.09" width="5.1" height="91.56" fill="#d15541"/>
<rect x="1625" y="391.51" width="1" height="32.83" fill="#d15541"/><rect x="1622.89" y="393.2" width="5.1" height="17.77" fill="#d15541"/>
<rect x="1633" y="384.23" width="1" height="32.15" fill="#328673"/><rect x="1630.63" y="396.58" width="5.1" height="14.38" fill="#328673"/>
<rect x="1640" y="391.34" width="1" height="46.19" fill="#d15541"/><rect x="1638.37" y="396.58" width="5.1" height="30.12" fill="#d15541"/>
<rect x="1648" y="410.46" width="1" height="77.83" fill="#d15541"/><rect x="1646.11" y="428.22" width="5.1" height="36.89" fill="#d15541"/>
</g>
<g stroke="#000" stroke-width="1" stroke-dasharray="5.4 4.6" fill="none">
<line x1="486.7" y1="524.1" x2="1773" y2="522.0"/>
<line x1="1322.5" y1="503.9" x2="1728" y2="502.0"/>
</g>
<rect class="c" x="0" y="465" width="2112" height="1" fill="#2f4c79"/>
<path d="M2115.8 466 L2122.8 458.3 H2170.3 V473.7 H2122.8 Z" fill="#2f4c79"/>
<text class="b" x="2120.6" y="470.6" style="fill:#fff">1.335130</text>
<text x="2120.3" y="64">1.3900</text>
<text x="2120.3" y="138">1.3800</text>
<text x="2120.3" y="212">1.3700</text>
<text x="2120.3" y="286">1.3600</text>
<text x="2120.3" y="360">1.3500</text>
<text x="2120.3" y="434">1.3400</text>
<text x="2120.3" y="508">1.3300</text>
<text x="2120.3" y="582">1.3200</text>
<text x="2120.3" y="656">1.3100</text>
<text x="2120.3" y="730">1.3000</text>
<text x="2120.3" y="804">1.2900</text>
<text x="2120.3" y="878">1.2800</text>
<text x="8.0" y="937" text-anchor="middle">15</text>
<text class="b" x="108.5" y="937" text-anchor="middle">Sep</text>
<text x="201.5" y="937" text-anchor="middle">19</text>
<text class="b" x="277.5" y="937" text-anchor="middle">Oct</text>
<text x="356.5" y="937" text-anchor="middle">17</text>
<text class="b" x="441.5" y="937" text-anchor="middle">Nov</text>
<text x="526.5" y="937" text-anchor="middle">16</text>
<text class="b" x="611.2" y="937" text-anchor="middle">Dec</text>
<text x="704.5" y="937" text-anchor="middle">19</text>
<text class="b" x="782.0" y="937" text-anchor="middle">2023</text>
<text x="859.5" y="937" text-anchor="middle">16</text>
<text class="b" x="951.3" y="937" text-anchor="middle">Feb</text>
<text x="1029.5" y="937" text-anchor="middle">15</text>
<text class="b" x="1106.2" y="937" text-anchor="middle">Mar</text>
<text x="1207.5" y="937" text-anchor="middle">20</text>
<text class="b" x="1283.8" y="937" text-anchor="middle">Apr</text>
<text x="1362.5" y="937" text-anchor="middle">17</text>
<text class="b" x="1440.2" y="937" text-anchor="middle">May</text>
<text x="1517.5" y="937" text-anchor="middle">15</text>
<text class="b" x="1616.8" y="937" text-anchor="middle">Jun</text>
<text x="1710.8" y="937" text-anchor="middle">19</text>
<text class="b" x="1785.3" y="937" text-anchor="middle">Jul</text>
<text x="1865.5" y="937" text-anchor="middle">17</text>
<text class="b" x="1950.5" y="937" text-anchor="middle">Aug</text>
<text x="2097.8" y="937" text-anchor="middle">28</text>
<rect class="c" x="5" y="5" width="79" height="21" fill="#5e5e5e"/>
<rect class="c" x="5" y="5" width="2" height="21" fill="#2b8a72"/>
<text class="b" x="15.8" y="20.2" style="fill:#fff">USD/CAD</text>
</svg>
</body></html>
